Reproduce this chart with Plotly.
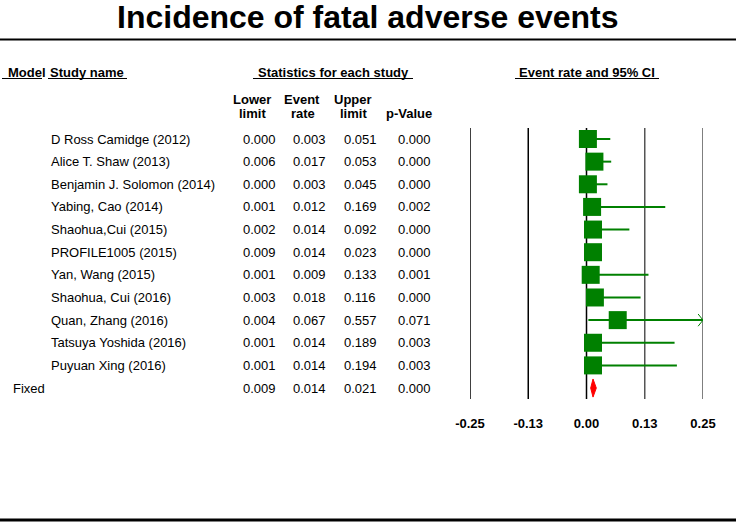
import plotly.graph_objects as go

# ---------------- data ----------------
studies = ["D Ross Camidge (2012)", "Alice T. Shaw (2013)", "Benjamin J. Solomon (2014)",
           "Yabing, Cao (2014)", "Shaohua,Cui (2015)", "PROFILE1005 (2015)",
           "Yan, Wang (2015)", "Shaohua, Cui (2016)", "Quan, Zhang (2016)",
           "Tatsuya Yoshida (2016)", "Puyuan Xing (2016)"]
lower = [0.000, 0.006, 0.000, 0.001, 0.002, 0.009, 0.001, 0.003, 0.004, 0.001, 0.001]
rate = [0.003, 0.017, 0.003, 0.012, 0.014, 0.014, 0.009, 0.018, 0.067, 0.014, 0.014]
upper = [0.051, 0.053, 0.045, 0.169, 0.092, 0.023, 0.133, 0.116, 0.557, 0.189, 0.194]
pval = [0.000, 0.000, 0.000, 0.002, 0.000, 0.000, 0.001, 0.000, 0.071, 0.003, 0.003]

model_label = "Fixed"
fixed_lower, fixed_rate, fixed_upper, fixed_p = 0.009, 0.014, 0.021, 0.000

tick_vals = [-0.25, -0.125, 0.0, 0.125, 0.25]
tick_text = ["-0.25", "-0.13", "0.00", "0.13", "0.25"]
tick_colors = ["#000000", "#000000", "#000000", "#555555", "#555555"]

title = "Incidence of fatal adverse events"
x_min, x_max = -0.25, 0.25

# ---------------- layout constants ----------------
W, H = 736, 522
FONT = "Liberation Sans, Arial, sans-serif"
GREEN = "#008000"


def px(x):
    return x / W


def py(y):
    return 1 - y / H


fig = go.Figure()
n = len(studies)
rows = list(range(n))
fixed_row = n

# CI lines
for i in rows:
    hi = min(upper[i], x_max)
    fig.add_trace(go.Scatter(x=[lower[i], hi], y=[i, i], mode="lines",
                             line=dict(color=GREEN, width=2), hoverinfo="skip",
                             showlegend=False))
    if upper[i] > x_max:
        dx = 0.0105
        dy = 0.27
        fig.add_trace(go.Scatter(x=[x_max - dx, x_max, x_max - dx], y=[i - dy, i, i + dy],
                                 mode="lines", line=dict(color=GREEN, width=1),
                                 hoverinfo="skip", showlegend=False))

# squares
fig.add_trace(go.Scatter(x=rate, y=rows, mode="markers",
                         marker=dict(symbol="square", size=18, color=GREEN,
                                     line=dict(width=0)),
                         showlegend=False))

# diamond for pooled estimate
dh = 0.4
fig.add_trace(go.Scatter(x=[fixed_lower, fixed_rate, fixed_upper, fixed_rate, fixed_lower],
                         y=[fixed_row, fixed_row - dh, fixed_row, fixed_row + dh, fixed_row],
                         mode="lines", fill="toself", fillcolor="#FF0000",
                         line=dict(color="#FF0000", width=1), showlegend=False))

# vertical reference lines
for v, c in zip(tick_vals, tick_colors):
    fig.add_shape(type="line", xref="x", yref="y domain", x0=v, x1=v, y0=0, y1=1,
                  line=dict(color=c, width=1.5), layer="below")

annotations = []


def txt(x, y, s, anchor="left", size=13, bold=False, yref="paper"):
    annotations.append(dict(x=x, y=y, xref="paper", yref=yref, text=("<b>%s</b>" % s) if bold else s,
                            showarrow=False, xanchor=anchor, yanchor="middle",
                            font=dict(family=FONT, size=size, color="black")))


# title
txt(px(368), py(17), title, anchor="center", size=32, bold=True)

# headers
txt(px(6), py(72), "Model", bold=True)
txt(px(48), py(72), "Study name", bold=True)
txt(px(333), py(72), "Statistics for each study", anchor="center", bold=True)
txt(px(587), py(72), "Event rate and 95% CI", anchor="center", bold=True)
txt(px(252), py(99), "Lower", anchor="center", bold=True)
txt(px(252), py(113), "limit", anchor="center", bold=True)
txt(px(302), py(99), "Event", anchor="center", bold=True)
txt(px(303), py(113), "rate", anchor="center", bold=True)
txt(px(353), py(99), "Upper", anchor="center", bold=True)
txt(px(353), py(113), "limit", anchor="center", bold=True)
txt(px(409), py(113), "p-Value", anchor="center", bold=True)

# header underlines and horizontal rules
shapes_extra = [(2, 42), (48, 127), (253, 413), (515, 659)]
for a, b in shapes_extra:
    fig.add_shape(type="line", xref="paper", yref="paper", x0=px(a), x1=px(b),
                  y0=py(78.5), y1=py(78.5), line=dict(color="black", width=1))
fig.add_shape(type="line", xref="paper", yref="paper", x0=0, x1=1, y0=py(39.5), y1=py(39.5),
              line=dict(color="black", width=2.2))
fig.add_shape(type="line", xref="paper", yref="paper", x0=0, x1=1, y0=py(520), y1=py(520),
              line=dict(color="black", width=3))

# table rows
col_x = [259, 309, 360, 414]
for i in rows:
    txt(px(49), i, studies[i], yref="y")
    for cx, v in zip(col_x, [lower[i], rate[i], upper[i], pval[i]]):
        txt(px(cx), i, "%.3f" % v, anchor="center", yref="y")
txt(px(11), fixed_row, model_label, yref="y")
for cx, v in zip(col_x, [fixed_lower, fixed_rate, fixed_upper, fixed_p]):
    txt(px(cx), fixed_row, "%.3f" % v, anchor="center", yref="y")

fig.update_layout(
    width=W, height=H, autosize=False,
    margin=dict(l=0, r=0, t=0, b=0, pad=0, autoexpand=False),
    paper_bgcolor="white", plot_bgcolor="white",
    annotations=annotations,
    xaxis=dict(domain=[px(470), px(703)], range=[x_min, x_max], tickvals=tick_vals,
               ticktext=tick_text, showgrid=False, zeroline=False, showline=False,
               ticks="", ticklabelstandoff=15, automargin=False,
               tickfont=dict(family=FONT, size=13, color="black", weight="bold")),
    yaxis=dict(domain=[py(399), py(128)], range=[(399 - 139) / 22.64, (128 - 139) / 22.64],
               visible=False, automargin=False),
    showlegend=False,
)

fig.write_html("out.html", include_plotlyjs=True, full_html=True,
               config={"responsive": False, "displayModeBar": False},
               post_script="document.body.style.margin='0';document.body.style.overflow='hidden';")
